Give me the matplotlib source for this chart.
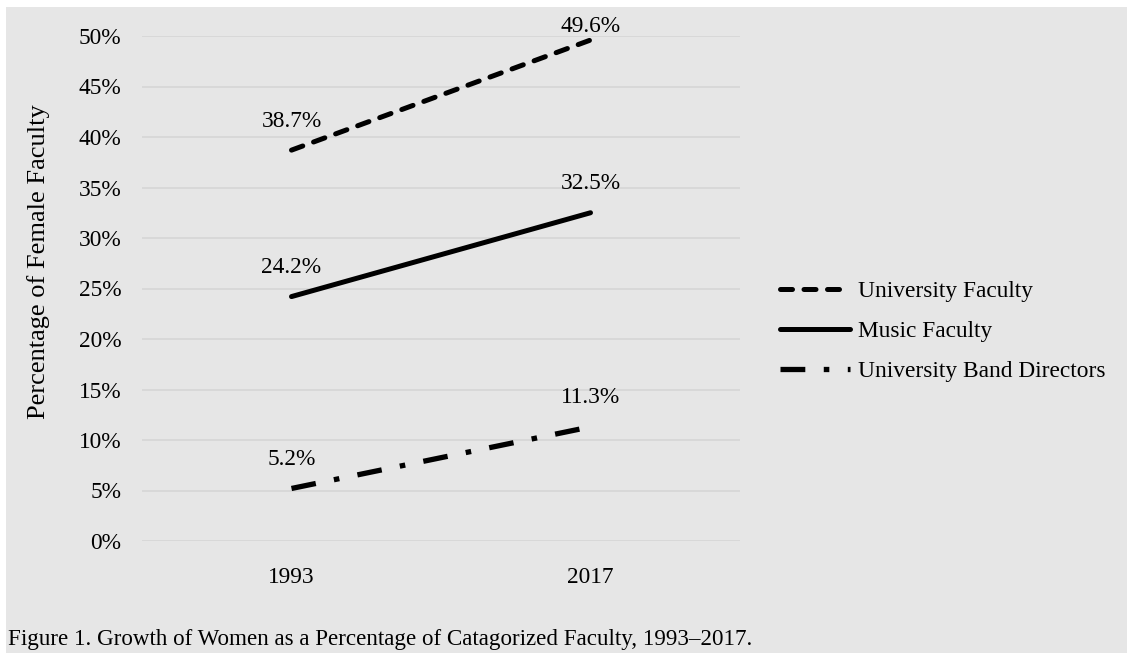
import numpy as np
import matplotlib.pyplot as plt
from matplotlib.patches import Rectangle

plt.rcParams['font.family'] = ['Liberation Serif', 'DejaVu Serif']
plt.rcParams['font.size'] = 16.8

# data
years = ['1993', '2017']
univ_faculty = [38.7, 49.6]
music_faculty = [24.2, 32.5]
band_directors = [5.2, 11.3]
yticks = np.arange(0, 55, 5)

bg = '#e6e6e6'
W, H = 1127, 653

fig = plt.figure(figsize=(W / 100, H / 100), dpi=100)
fig.patch.set_facecolor('white')
# grey panel behind everything (thin white margin top and left)
fig.patches.append(Rectangle((6 / W, 0), 1 - 6 / W, 1 - 7 / H,
                             transform=fig.transFigure, facecolor=bg,
                             edgecolor='none', zorder=-1))

ax = fig.add_axes([142 / W, 1 - 541 / H, (740 - 142) / W, (541 - 36) / H])
ax.set_facecolor('none')

x = np.arange(len(years))
l1, = ax.plot(x, univ_faculty, color='black', lw=3.6,
              linestyle=(0, (2.4, 2.3)), dash_capstyle='round',
              label='University Faculty')
l2, = ax.plot(x, music_faculty, color='black', lw=3.6,
              solid_capstyle='round', label='Music Faculty')
l3, = ax.plot(x, band_directors, color='black', lw=3.8,
              linestyle=(0, (4.7, 3.5, 1.05, 3.5)), dash_capstyle='butt',
              label='University Band Directors')

# value labels above each point (pushed down near the top edge)
for series in (univ_faculty, music_faculty, band_directors):
    for xi, v in zip(x, series):
        dy = 17 if v < 48 else 6
        ax.annotate(f'{v:.1f}%', (xi, v), xytext=(0, dy),
                    textcoords='offset points', ha='center', va='baseline')

ax.set_xlim(-0.5, 1.5)
ax.set_ylim(0, 50)
ax.set_xticks(x)
ax.set_xticklabels(years)
ax.set_yticks(yticks)
ax.set_yticklabels([f'{t}%' for t in yticks])
ax.tick_params(axis='both', length=0)
ax.tick_params(axis='y', pad=15)
ax.tick_params(axis='x', pad=18.5)
ax.grid(axis='y', color='#d6d6d6', lw=1.2)
ax.set_axisbelow(True)
for s in ax.spines.values():
    s.set_visible(False)

fig.text(39 / W, 1 - 262 / H, 'Percentage of Female Faculty', rotation=90,
         ha='center', va='center', fontsize=19)

fig.legend(handles=[l1, l2, l3], loc='center left',
           bbox_to_anchor=(780 / W, 1 - 331 / H), frameon=False,
           handlelength=3.0, handletextpad=0.35, labelspacing=0.8,
           borderpad=0, borderaxespad=0)

fig.text(8 / W, 1 - 640 / H,
         'Figure 1. Growth of Women as a Percentage of Catagorized Faculty, 1993\u20132017.',
         ha='left', va='center', fontsize=16.6)

plt.savefig('out.png', dpi=100, facecolor=fig.get_facecolor())
